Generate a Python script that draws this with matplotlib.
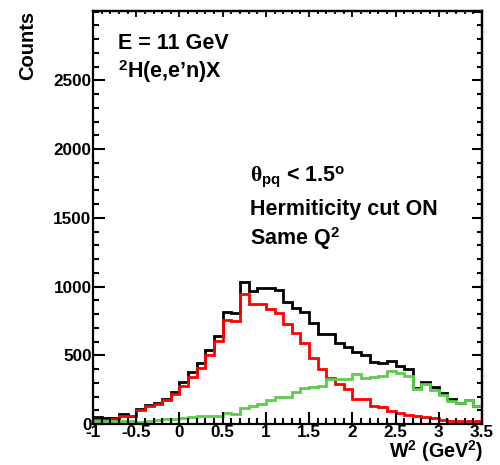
import numpy as np
import matplotlib
matplotlib.use("Agg")
import matplotlib.pyplot as plt
from matplotlib.ticker import MultipleLocator

plt.rcParams['font.family'] = ['Liberation Sans', 'DejaVu Sans']
plt.rcParams['font.weight'] = 'bold'
plt.rcParams['mathtext.fontset'] = 'custom'
plt.rcParams['mathtext.rm'] = 'Liberation Sans:bold'
plt.rcParams['mathtext.bf'] = 'Liberation Sans:bold'
plt.rcParams['mathtext.it'] = 'Liberation Serif'

# W^2 bins, 0.1 GeV^2 wide
edges = np.round(np.arange(-1.0, 3.5001, 0.1), 2)

# all events (black)
counts_all = [48, 45, 45, 72, 60, 108, 138, 152, 181, 234,
              304, 379, 442, 539, 640, 817, 805, 1035, 967, 986,
              986, 974, 887, 846, 814, 737, 652, 652, 592, 563,
              524, 500, 452, 447, 455, 420, 400, 262, 307, 270,
              225, 180, 155, 177, 133]

# red selection
counts_red = [30, 30, 35, 60, 55, 100, 130, 145, 175, 220,
              280, 340, 405, 500, 604, 756, 749, 943, 875, 873,
              839, 805, 725, 665, 592, 483, 399, 338, 290, 254,
              181, 181, 128, 121, 95, 80, 65, 56, 48, 41,
              29, 25, 24, 22, 22]

# green selection
counts_green = [25, 25, 25, 25, 22, 15, 25, 30, 35, 38,
                40, 50, 55, 58, 60, 80, 73, 113, 128, 142,
                176, 198, 195, 230, 259, 271, 278, 326, 331, 331,
                362, 338, 345, 350, 387, 370, 346, 255, 290, 249,
                210, 169, 150, 177, 128]

fig = plt.figure(figsize=(5.0, 4.65), dpi=100)
ax = fig.add_axes([0.186, 0.0882, 0.778, 0.888])

ax.stairs(counts_all, edges, color='black', lw=2.0)
ax.stairs(counts_red, edges, color='#ff0000', lw=2.0)
ax.stairs(counts_green, edges, color='#5ccc4c', lw=2.0)

ax.set_xlim(-1, 3.5)
ax.set_ylim(0, 3005)

ax.xaxis.set_minor_locator(MultipleLocator(0.1))
ax.yaxis.set_minor_locator(MultipleLocator(100))
ax.set_yticks([0, 500, 1000, 1500, 2000, 2500])
ax.set_xticks([-1, -0.5, 0, 0.5, 1, 1.5, 2, 2.5, 3, 3.5])
ax.set_xticklabels(['-1', '-0.5', '0', '0.5', '1', '1.5', '2', '2.5', '3', '3.5'])

ax.tick_params(which='both', direction='in', width=1.5, labelsize=12.3)
ax.tick_params(which='major', length=8.5)
ax.tick_params(which='minor', length=4.3)
ax.tick_params(axis='x', pad=1)
ax.tick_params(axis='y', pad=1)
for lab in ax.get_xticklabels() + ax.get_yticklabels():
    lab.set_fontweight('bold')
for s in ax.spines.values():
    s.set_linewidth(1.6)

top = ax.secondary_xaxis('top')
top.xaxis.set_major_locator(MultipleLocator(0.5))
top.xaxis.set_minor_locator(MultipleLocator(0.1))
top.tick_params(which='both', direction='in', width=1.3, labeltop=False)
top.tick_params(which='major', length=4.5)
top.tick_params(which='minor', length=2.5)
top.spines['top'].set_linewidth(1.6)

right = ax.secondary_yaxis('right')
right.yaxis.set_major_locator(MultipleLocator(500))
right.yaxis.set_minor_locator(MultipleLocator(100))
right.tick_params(which='both', direction='in', width=1.5, labelright=False)
right.tick_params(which='major', length=7)
right.tick_params(which='minor', length=3.6)
right.spines['right'].set_linewidth(1.6)

fig.text(28 / 500, 1 - 11 / 465, 'Counts', rotation=90, ha='center', va='top',
         fontsize=14.5, fontweight='bold')
fig.text(483 / 500, 1 - 458 / 465, r'W$^{\mathbf{2}}$ (GeV$^{\mathbf{2}}$)',
         ha='right', va='baseline', fontsize=14.2, fontweight='bold')

fig.text(118 / 500, 1 - 43 / 465, 'E = 11 GeV', ha='left', va='center',
         fontsize=15.5, fontweight='bold')
fig.text(118 / 500, 1 - 72 / 465, r'$^{\mathbf{2}}$H(e,e’n)X', ha='left', va='center',
         fontsize=15.5, fontweight='bold')
fig.text(250 / 500, 1 - 177 / 465, r'$\theta_{\mathbf{pq}}$ < 1.5$^{\mathbf{o}}$',
         ha='left', va='center', fontsize=15.5, fontweight='bold')
fig.text(250 / 500, 1 - 209 / 465, 'Hermiticity cut ON', ha='left', va='center',
         fontsize=15.5, fontweight='bold')
fig.text(250 / 500, 1 - 239 / 465, r'Same Q$^{\mathbf{2}}$', ha='left', va='center',
         fontsize=15.5, fontweight='bold')

fig.savefig('out.png', dpi=100)
